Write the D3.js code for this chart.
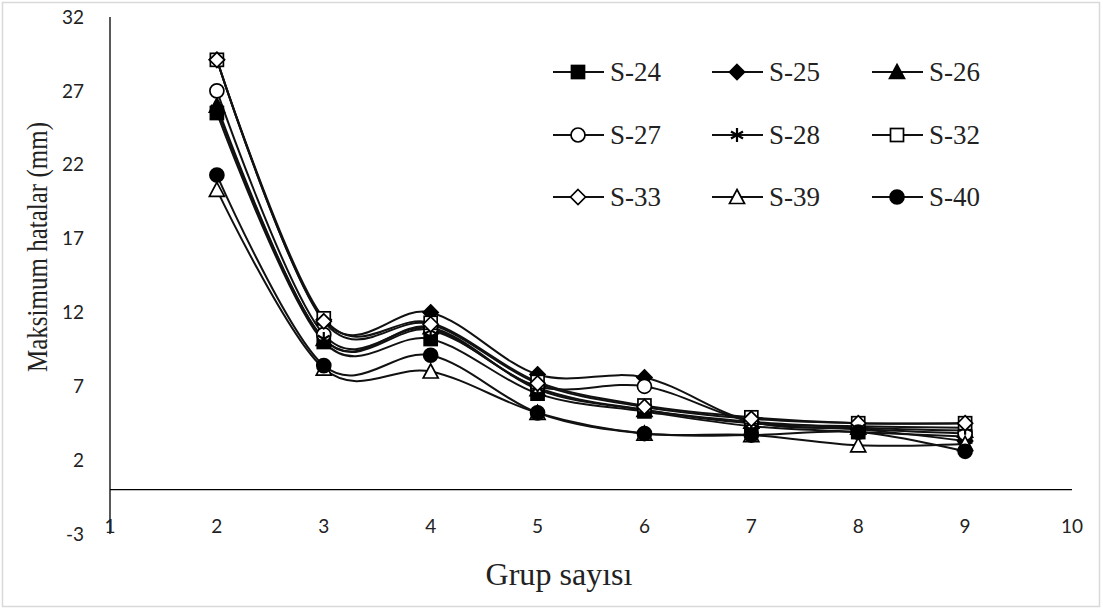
<!DOCTYPE html>
<html><head><meta charset="utf-8">
<script src="https://cdn.jsdelivr.net/npm/d3@7"></script>
<style>
html,body{margin:0;padding:0;background:#fff;}
svg{display:block;}
</style></head>
<body>
<svg id="chart" width="1103" height="610"></svg>
<script>
const groups = [2, 3, 4, 5, 6, 7, 8, 9];
const xTicks = [1, 2, 3, 4, 5, 6, 7, 8, 9, 10];
const yTicks = [-3, 2, 7, 12, 17, 22, 27, 32];
const seriesNames = ["S-24", "S-25", "S-26", "S-27", "S-28", "S-32", "S-33", "S-39", "S-40"];
const s24 = [25.5, 10.0, 10.2, 6.5, 5.3, 4.3, 3.9, 3.6];
const s25 = [29.1, 11.5, 12.0, 7.8, 7.6, 4.6, 4.1, 3.3];
const s26 = [26.0, 10.2, 11.0, 6.8, 5.4, 4.6, 4.2, 4.0];
const s27 = [27.0, 10.5, 10.9, 7.0, 7.0, 4.6, 4.1, 3.8];
const s28 = [25.8, 10.2, 10.8, 6.9, 5.4, 4.5, 4.3, 4.2];
const s32 = [29.1, 11.6, 11.3, 7.3, 5.7, 4.9, 4.5, 4.5];
const s33 = [29.1, 11.4, 11.2, 7.2, 5.6, 4.8, 4.5, 4.5];
const s39 = [20.3, 8.2, 8.0, 5.2, 3.8, 3.7, 3.0, 3.1];
const s40 = [21.3, 8.4, 9.1, 5.2, 3.8, 3.7, 3.9, 2.6];
const seriesValues = [s24, s25, s26, s27, s28, s32, s33, s39, s40];
const markerTypes = ["sq", "dia", "tri", "circ", "ast", "sq", "dia", "tri", "circ"];
const markerFilled = [true, true, true, false, true, false, false, false, true];

const svg = d3.select("#chart");
svg.append("rect").attr("x", 2.5).attr("y", 2.5).attr("width", 1097).attr("height", 604)
  .attr("fill", "#fff").attr("stroke", "#d9d9d9").attr("stroke-width", 1.5);

const x = d3.scaleLinear().domain([1, 10]).range([110, 1072]);
const y = d3.scaleLinear().domain([-3, 32]).range([534, 17]);

const tickFont = "Lato, 'Open Sans', sans-serif";
const serif = "'Liberation Serif', 'Times New Roman', serif";
svg.append("line").attr("x1", x(1)).attr("x2", x(1)).attr("y1", y(32)).attr("y2", y(-3))
  .attr("stroke", "#000").attr("stroke-width", 1.3);
svg.append("line").attr("x1", x(1)).attr("x2", x(10)).attr("y1", y(0)).attr("y2", y(0))
  .attr("stroke", "#000").attr("stroke-width", 1.3);

svg.selectAll("text.yt").data(yTicks).enter().append("text").attr("class", "yt")
  .attr("x", 84).attr("y", d => y(d)).attr("dy", "0.35em").attr("text-anchor", "end")
  .attr("font-family", tickFont).attr("font-size", 19).attr("fill", "#222").text(d => d);
svg.selectAll("text.xt").data(xTicks).enter().append("text").attr("class", "xt")
  .attr("x", d => x(d)).attr("y", 526).attr("dy", "0.35em").attr("text-anchor", "middle")
  .attr("font-family", tickFont).attr("font-size", 19).attr("fill", "#222").text(d => d);

svg.append("text").attr("transform", "translate(47,247) rotate(-90)")
  .attr("text-anchor", "middle").attr("font-family", serif)
  .attr("font-size", 30).attr("textLength", 250).attr("lengthAdjust", "spacingAndGlyphs")
  .attr("fill", "#222").text("Maksimum hatalar (mm)");
svg.append("text").attr("x", 559).attr("y", 585)
  .attr("text-anchor", "middle").attr("font-family", serif)
  .attr("font-size", 32).attr("textLength", 147).attr("lengthAdjust", "spacingAndGlyphs")
  .attr("fill", "#222").text("Grup sayısı");

function drawMarker(g, type, filled, cx, cy) {
  const fill = filled ? "#000" : "#fff";
  const st = {stroke: "#000", "stroke-width": 1.7, fill: fill};
  let m;
  if (type === "sq") {
    m = g.append("rect").attr("x", cx - 6.5).attr("y", cy - 6.5).attr("width", 13).attr("height", 13);
  } else if (type === "dia") {
    m = g.append("path").attr("d", `M${cx},${cy-7.5}L${cx+7.5},${cy}L${cx},${cy+7.5}L${cx-7.5},${cy}Z`);
  } else if (type === "tri") {
    m = g.append("path").attr("d", `M${cx},${cy-7.5}L${cx+7.5},${cy+6.5}L${cx-7.5},${cy+6.5}Z`);
  } else if (type === "circ") {
    m = g.append("circle").attr("cx", cx).attr("cy", cy).attr("r", 7);
  } else if (type === "ast") {
    g.append("path").attr("d",
      `M${cx},${cy-7}L${cx},${cy+7}M${cx-6},${cy-3.5}L${cx+6},${cy+3.5}M${cx-6},${cy+3.5}L${cx+6},${cy-3.5}`)
      .attr("fill", "none").attr("stroke", "#000").attr("stroke-width", 2.2);
    return;
  }
  Object.entries(st).forEach(([k, v]) => m.attr(k, v));
}

const line = d3.line().x((d, i) => x(groups[i])).y(d => y(d)).curve(d3.curveCatmullRom.alpha(0));
const plot = svg.append("g");
seriesValues.forEach((vals) => {
  plot.append("path").attr("d", line(vals)).attr("fill", "none")
    .attr("stroke", "#111").attr("stroke-width", 2);
});
seriesValues.forEach((vals, si) => {
  const g = plot.append("g");
  vals.forEach((v, i) => drawMarker(g, markerTypes[si], markerFilled[si], x(groups[i]), y(v)));
});

const legCols = [553, 712, 872];
const legRows = [72, 135, 197];
seriesNames.forEach((name, i) => {
  const cx0 = legCols[i % 3], cy = legRows[Math.floor(i / 3)];
  const g = svg.append("g");
  g.append("line").attr("x1", cx0).attr("x2", cx0 + 51).attr("y1", cy).attr("y2", cy)
    .attr("stroke", "#111").attr("stroke-width", 2);
  drawMarker(g, markerTypes[i], markerFilled[i], cx0 + 25, cy);
  g.append("text").attr("x", cx0 + 57).attr("y", cy).attr("dy", "0.35em")
    .attr("font-family", serif).attr("font-size", 27)
    .attr("textLength", 51).attr("lengthAdjust", "spacingAndGlyphs")
    .attr("fill", "#222").text(name);
});
</script>
</body></html>
